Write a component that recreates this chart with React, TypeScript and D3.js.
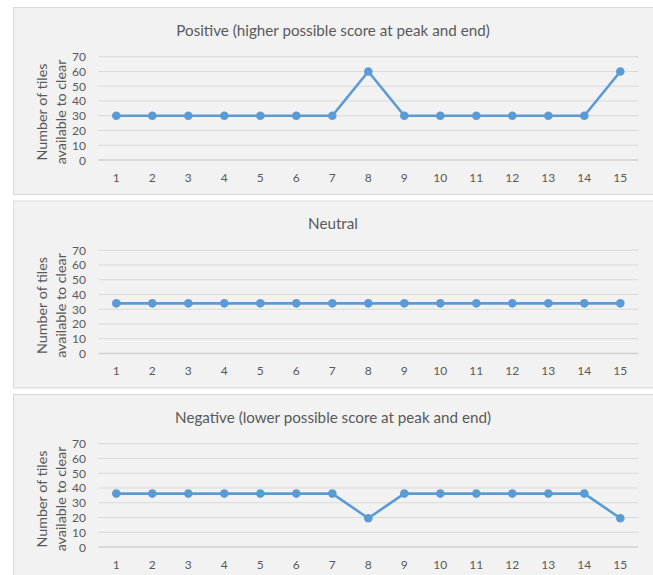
import React from "react";
import * as d3 from "d3";

// Level numbers along the x axis
const levels: number[] = [1, 2, 3, 4, 5, 6, 7, 8, 9, 10, 11, 12, 13, 14, 15];

// Tiles available to clear at each level, per condition
const positiveTiles: number[] = [30, 30, 30, 30, 30, 30, 30, 60, 30, 30, 30, 30, 30, 30, 60];
const neutralTiles: number[] = [34, 34, 34, 34, 34, 34, 34, 34, 34, 34, 34, 34, 34, 34, 34];
const negativeTiles: number[] = [36.2, 36.2, 36.2, 36.2, 36.2, 36.2, 36.2, 19.5, 36.2, 36.2, 36.2, 36.2, 36.2, 36.2, 19.5];

const panelTitles: string[] = [
  "Positive (higher possible score at peak and end)",
  "Neutral",
  "Negative (lower possible score at peak and end)",
];

const yTicks: number[] = [0, 10, 20, 30, 40, 50, 60, 70];
const yTitleLines: string[] = ["Number of tiles", "available to clear"];

const WIDTH = 653;
const HEIGHT = 575;
const FONT = "Lato, 'Open Sans', sans-serif";
const TEXT = "#595959";
const LINE = "#5b9bd5";

const PANEL_TOPS = [7, 200.5, 394];
const PANEL_H = 187;

function Panel({ top, title, values }: { top: number; title: string; values: number[] }) {
  const x = d3
    .scaleBand<number>()
    .domain(levels)
    .range([98.3, 638.3])
    .paddingInner(0)
    .paddingOuter(0);
  const y = d3.scaleLinear().domain([0, 70]).range([top + 153, top + 49.7]);
  const cx = (d: number) => (x(d) as number) + x.bandwidth() / 2;

  const line = d3
    .line<number>()
    .x((_, i) => cx(levels[i]))
    .y((v) => y(v));

  const [x0, x1] = x.range();

  return (
    <g>
      <rect
        x={13.5}
        y={top + 0.5}
        width={WIDTH}
        height={PANEL_H}
        fill="#f2f2f2"
        stroke="#d9d9d9"
        strokeWidth={1}
      />
      <text
        x={333}
        y={top + 22.5}
        textAnchor="middle"
        dominantBaseline="central"
        fontFamily={FONT}
        fontSize={15.2}
        fill={TEXT}
      >
        {title}
      </text>
      {yTicks.map((t) => (
        <g key={t}>
          <line
            x1={x0}
            x2={x1}
            y1={y(t)}
            y2={y(t)}
            stroke={t === 0 ? "#d0d0d0" : "#d9d9d9"}
            strokeWidth={t === 0 ? 1.5 : 1}
          />
          <text
            x={86}
            y={y(t)}
            textAnchor="end"
            dominantBaseline="central"
            fontFamily={FONT}
            fontSize={12}
            fill={TEXT}
          >
            {t}
          </text>
        </g>
      ))}
      {levels.map((l) => (
        <text
          key={l}
          x={cx(l)}
          y={top + 170}
          textAnchor="middle"
          dominantBaseline="central"
          fontFamily={FONT}
          fontSize={12}
          fill={TEXT}
        >
          {l}
        </text>
      ))}
      {yTitleLines.map((s, i) => (
        <text
          key={s}
          transform={`translate(${41.7 + i * 18.3},${top + 105}) rotate(-90)`}
          textAnchor="middle"
          dominantBaseline="central"
          fontFamily={FONT}
          fontSize={14.3}
          fill={TEXT}
        >
          {s}
        </text>
      ))}
      <path
        d={line(values) ?? ""}
        fill="none"
        stroke={LINE}
        strokeWidth={2.6}
        strokeLinejoin="round"
      />
      {values.map((v, i) => (
        <circle key={i} cx={cx(levels[i])} cy={y(v)} r={4.3} fill={LINE} />
      ))}
    </g>
  );
}

export default function App() {
  const series = [positiveTiles, neutralTiles, negativeTiles];
  return (
    <svg
      width={WIDTH}
      height={HEIGHT}
      style={{ position: "absolute", left: 0, top: 0, background: "#ffffff" }}
    >
      {series.map((vals, i) => (
        <Panel key={i} top={PANEL_TOPS[i]} title={panelTitles[i]} values={vals} />
      ))}
    </svg>
  );
}
